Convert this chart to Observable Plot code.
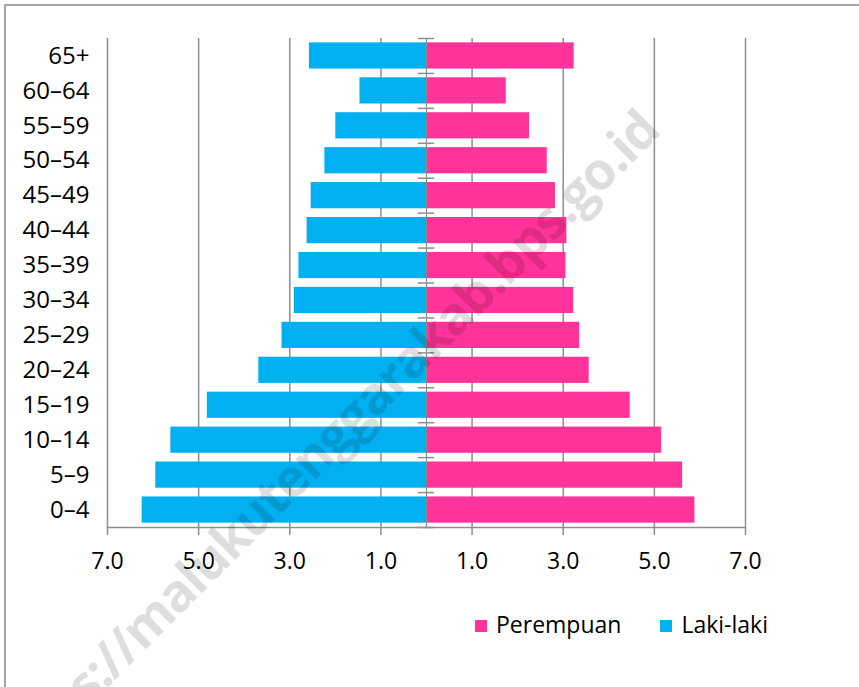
<!DOCTYPE html>
<html><head><meta charset="utf-8">
<script src="https://cdn.jsdelivr.net/npm/d3@7"></script>
<script src="https://cdn.jsdelivr.net/npm/@observablehq/plot@0.6"></script>
<style>
body{margin:0;width:859px;height:687px;overflow:hidden;background:#fff;font-family:"Open Sans",sans-serif;position:relative}
#frame{position:absolute;left:4px;top:4px;width:900px;height:800px;border:2px solid #a6a6a6;box-sizing:border-box}
#chart{position:absolute;left:0;top:0}
#legend{position:absolute;left:475px;top:613px;display:flex;align-items:center;font-size:23px;line-height:23px;color:#000}
.item{display:flex;align-items:center;margin-right:39px}
.sw{width:12px;height:12px;margin-right:9px;margin-top:3px}
#wm{position:absolute;left:0;top:0;pointer-events:none}
</style></head><body>
<div id="frame"></div>
<div id="chart"></div>
<div id="legend"></div>
<svg id="wm" width="859" height="687"><text transform="translate(662,133) rotate(-45)" text-anchor="end" font-family="Open Sans" font-weight="bold" font-size="52" letter-spacing="-1.5" fill="rgba(0,0,0,0.13)">https://malukutenggarakab.bps.go.id</text></svg>
<script>
// age groups, bottom to top
const ages = ["0–4","5–9","10–14","15–19","20–24","25–29","30–34","35–39","40–44","45–49","50–54","55–59","60–64","65+"];
const lakiLaki = [6.24,5.94,5.61,4.81,3.68,3.17,2.90,2.80,2.62,2.53,2.23,1.99,1.46,2.57];
const perempuan = [5.89,5.62,5.16,4.47,3.57,3.36,3.23,3.06,3.08,2.83,2.65,2.26,1.75,3.24];
const seriesNames = ["Perempuan","Laki-laki"];
const seriesColors = ["#FF3399","#00B0F0"];
const xTicks = [-7,-5,-3,-1,1,3,5,7];

const agesTop = ages.slice().reverse();
const data = ages.flatMap((a,i)=>[
  {age:a, sex:"Laki-laki", value:-lakiLaki[i]},
  {age:a, sex:"Perempuan", value:perempuan[i]}
]);
const gray = "#8e8e8e";
const base = {
  width:859, height:580, marginLeft:107, marginRight:114, marginTop:38, marginBottom:53,
  style:{fontFamily:"Open Sans", fontSize:"23px", color:"#000", background:"transparent", overflow:"visible"},
  x:{domain:[-7,7]},
  y:{domain:agesTop, paddingInner:0.25, paddingOuter:0.125, round:false},
  color:{domain:seriesNames, range:seriesColors}
};
const bars = Plot.barX(data, {x:"value", y:"age", fill:"sex"});
const p0 = Plot.plot({...base, marks:[bars]});
const step = p0.scale("y").step;

const chart = Plot.plot({...base, marks:[
  Plot.ruleX(xTicks, {stroke:gray, strokeWidth:1.5}),
  bars,
  Plot.ruleX([0], {stroke:"#888", strokeWidth:1}),
  Plot.ruleY(ages, {y:d=>d, x1:-0.18, x2:0.18, dy:step/2, stroke:gray, strokeWidth:1.5}),
  Plot.ruleY([agesTop[0]], {y:d=>d, x1:-0.18, x2:0.18, dy:-step/2, stroke:gray, strokeWidth:1.5}),
  Plot.frame({anchor:"bottom", stroke:gray, strokeWidth:1.5}),
  Plot.axisX({ticks:xTicks, tickFormat:d=>Math.abs(d).toFixed(1), tickSize:8, tickPadding:17, stroke:gray, strokeWidth:1.5, fill:"#000", fontSize:23, label:null}),
  Plot.axisY({tickSize:0, tickPadding:18, fontSize:24, fill:"#000", label:null})
]});
document.getElementById("chart").appendChild(chart);

const legend = document.getElementById("legend");
seriesNames.forEach((n,i)=>{
  const it = document.createElement("div"); it.className="item";
  const sw = document.createElement("div"); sw.className="sw"; sw.style.background=seriesColors[i];
  const t = document.createElement("span"); t.textContent=n;
  it.appendChild(sw); it.appendChild(t); legend.appendChild(it);
});
</script>
</body></html>
